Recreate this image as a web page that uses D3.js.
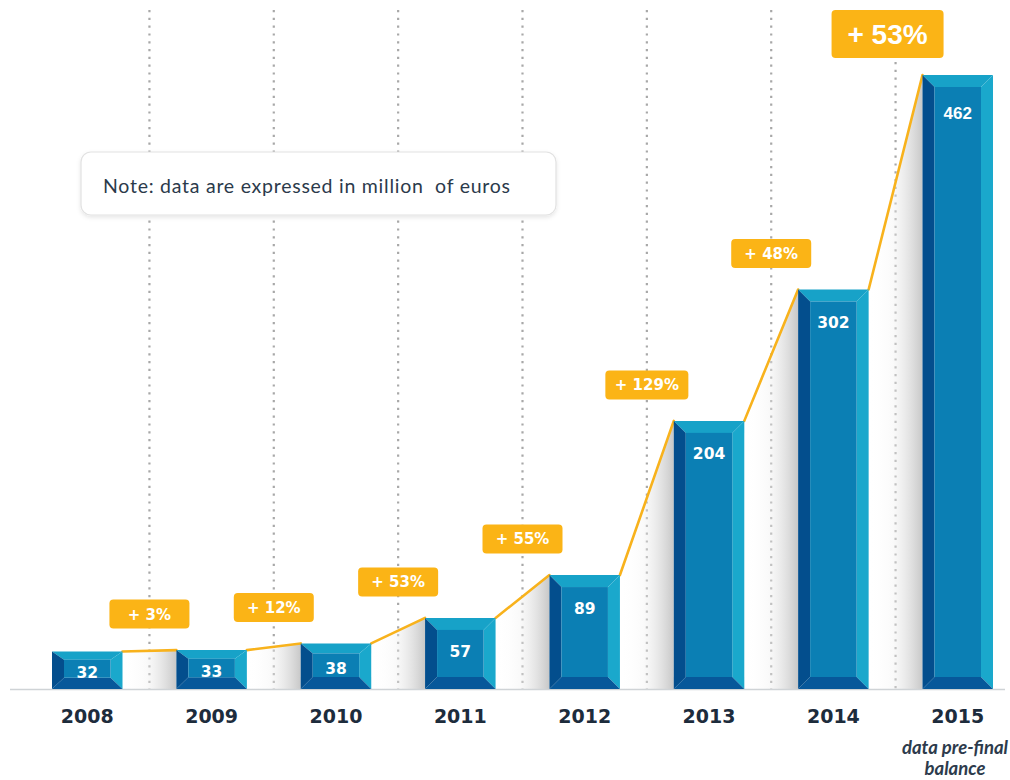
<!DOCTYPE html>
<html>
<head>
<meta charset="utf-8">
<script src="https://cdn.jsdelivr.net/npm/d3@7"></script>
<style>
  html, body { margin: 0; padding: 0; background: #fff; }
  svg { display: block; }
</style>
</head>
<body>
<svg id="chart" width="1010" height="780"></svg>
<script>
/* growth bars with bevelled "3D" blocks, yellow trend line and % badges */
var years = ['2008', '2009', '2010', '2011', '2012', '2013', '2014', '2015'];
var values = [32, 33, 38, 57, 89, 204, 302, 462];
var growth = ['+ 3%', '+ 12%', '+ 53%', '+ 55%', '+ 129%', '+ 48%', '+ 53%'];
var noteText = 'Note: data are expressed in million\u00a0 of euros';
var footNote = ['data pre-final', 'balance'];

var W = 1010, H = 780, BASE = 689;
var BOLD = '"DejaVu Sans", Verdana, sans-serif';
var svg = d3.select('#chart');

var x = d3.scaleBand().domain(years).range([52, 993]).paddingInner(0.433).paddingOuter(0);
var y = d3.scaleLinear().domain([4, 462]).range([BASE, 75]);
var bw = x.bandwidth();
var gap = x.step() - bw;
var lastI = values.length - 1;

var defs = svg.append('defs');
var sg = defs.append('linearGradient').attr('id', 'shade').attr('x1', 0).attr('x2', 1).attr('y1', 0).attr('y2', 0);
sg.append('stop').attr('offset', '0%').attr('stop-color', '#ffffff').attr('stop-opacity', 0);
sg.append('stop').attr('offset', '45%').attr('stop-color', '#f0f0f0').attr('stop-opacity', 0.35);
sg.append('stop').attr('offset', '100%').attr('stop-color', '#b0b0b0').attr('stop-opacity', 0.7);
var fl = defs.append('filter').attr('id', 'boxsh').attr('x', '-5%').attr('y', '-20%').attr('width', '110%').attr('height', '150%');
fl.append('feDropShadow').attr('dx', 0).attr('dy', 2).attr('stdDeviation', 2).attr('flood-color', '#000').attr('flood-opacity', 0.1);

// ----- dotted separators -----
var sepX = years.slice(1).map(function (yr) { return x(yr) - gap / 2; });
svg.append('g').selectAll('line').data(sepX).enter().append('line')
  .attr('x1', function (d) { return d; }).attr('x2', function (d) { return d; })
  .attr('y1', function (d, i) { return i === sepX.length - 1 ? 62 : 10; })
  .attr('y2', BASE)
  .attr('stroke', '#a8a8a8').attr('stroke-width', 2.2)
  .attr('stroke-dasharray', '2.2,5.6');

// ----- note box -----
var note = svg.append('g');
note.append('rect').attr('x', 81).attr('y', 152).attr('width', 475).attr('height', 63).attr('rx', 10)
  .attr('fill', '#fff').attr('stroke', '#e2e2e2').attr('stroke-width', 1.2).attr('filter', 'url(#boxsh)');
note.append('text').attr('x', 103).attr('y', 193)
  .attr('font-family', 'Lato, "Noto Sans", sans-serif').attr('font-size', 19.5)
  .attr('textLength', 407).attr('lengthAdjust', 'spacing')
  .attr('fill', '#2b3a4b').text(noteText);

// ----- shadows between bars -----
var pts = values.map(function (v, i) { return { yr: years[i], v: v, x0: x(years[i]), x1: x(years[i]) + bw, yt: y(v) }; });
var pairs = d3.pairs(pts);
svg.append('g').selectAll('path').data(pairs).enter().append('path')
  .attr('d', function (p) {
    return 'M' + p[0].x1 + ',' + p[0].yt + 'L' + p[1].x0 + ',' + p[1].yt +
      'L' + p[1].x0 + ',' + BASE + 'L' + p[0].x1 + ',' + BASE + 'Z';
  })
  .attr('fill', 'url(#shade)');

// ----- baseline -----
svg.append('line').attr('x1', 10).attr('x2', 1005).attr('y1', BASE + 0.5).attr('y2', BASE + 0.5)
  .attr('stroke', '#cfd3d6').attr('stroke-width', 1.5);

// ----- trend line -----
svg.append('g').selectAll('line').data(pairs).enter().append('line')
  .attr('x1', function (p) { return p[0].x1; }).attr('y1', function (p) { return p[0].yt; })
  .attr('x2', function (p) { return p[1].x0; }).attr('y2', function (p) { return p[1].yt; })
  .attr('stroke', '#f8b21c').attr('stroke-width', 2.6).attr('stroke-linecap', 'round');

// ----- bevelled bars -----
var bars = svg.append('g').selectAll('g').data(pts).enter().append('g');
function geo(d) {
  var h = BASE - d.yt;
  var bt = Math.min(12, h * 0.22), bb = Math.min(12, h * 0.3), bs = 12;
  return { x: d.x0, y: d.yt, w: bw, h: h, ix: d.x0 + bs, iy: d.yt + bt, iw: bw - 2 * bs, ih: h - bt - bb };
}
function poly(arr) { return arr.map(function (p) { return p.join(','); }).join(' '); }
bars.append('polygon').attr('fill', '#17a2c8').attr('points', function (d) {
  var g = geo(d); return poly([[g.x, g.y], [g.x + g.w, g.y], [g.ix + g.iw, g.iy], [g.ix, g.iy]]);
});
bars.append('polygon').attr('fill', '#1aa8cc').attr('points', function (d) {
  var g = geo(d); return poly([[g.x + g.w, g.y], [g.x + g.w, g.y + g.h], [g.ix + g.iw, g.iy + g.ih], [g.ix + g.iw, g.iy]]);
});
bars.append('polygon').attr('fill', '#07589a').attr('points', function (d) {
  var g = geo(d); return poly([[g.x, g.y + g.h], [g.x + g.w, g.y + g.h], [g.ix + g.iw, g.iy + g.ih], [g.ix, g.iy + g.ih]]);
});
bars.append('polygon').attr('fill', '#034e8d').attr('points', function (d) {
  var g = geo(d); return poly([[g.x, g.y], [g.x, g.y + g.h], [g.ix, g.iy + g.ih], [g.ix, g.iy]]);
});
bars.append('rect').attr('fill', '#0b7fb4')
  .attr('x', function (d) { return geo(d).ix; }).attr('y', function (d) { return geo(d).iy; })
  .attr('width', function (d) { return geo(d).iw; }).attr('height', function (d) { return geo(d).ih; });

// value labels
bars.append('text')
  .attr('x', function (d) { return d.x0 + bw / 2; })
  .attr('y', function (d, i) { return Math.min(d.yt + (i === lastI ? 38 : 33), (d.yt + BASE) / 2 + 2); })
  .attr('dy', '0.36em').attr('text-anchor', 'middle')
  .attr('font-family', function (d, i) { return i === lastI ? '"Liberation Sans", Arial, sans-serif' : BOLD; })
  .attr('font-weight', 700).attr('font-size', function (d, i) { return i === lastI ? 17 : 15.5; })
  .attr('fill', '#fff')
  .text(function (d) { return d.v; });

// year labels
svg.append('g').selectAll('text').data(years).enter().append('text')
  .attr('x', function (d) { return x(d) + bw / 2; }).attr('y', 716).attr('dy', '0.36em')
  .attr('text-anchor', 'middle').attr('font-family', BOLD)
  .attr('font-weight', 700).attr('font-size', 19).attr('fill', '#1d2c3c')
  .text(function (d) { return d; });

// foot note under 2015
svg.append('text').attr('x', 955).attr('y', 754).attr('text-anchor', 'middle')
  .attr('font-family', 'Lato, "Open Sans", sans-serif').attr('font-style', 'italic')
  .attr('font-weight', 700).attr('font-size', 18.5).attr('fill', '#2d3b4c')
  .selectAll('tspan').data(footNote).enter().append('tspan')
  .attr('x', 955).attr('dy', function (d, i) { return i ? 21 : 0; }).text(function (d) { return d; });

// ----- growth badges -----
var badges = svg.append('g').selectAll('g').data(growth).enter().append('g')
  .attr('transform', function (d, i) {
    var last = i === growth.length - 1;
    var cx = sepX[i] - (last ? 8 : 0);
    var cy = y(values[i + 1]) - (last ? 41 : 36);
    return 'translate(' + cx + ',' + cy + ')';
  });
function bwid(d, i) { return i === growth.length - 1 ? 112 : (d.length > 5 ? 83 : 80); }
badges.append('rect')
  .attr('x', function (d, i) { return -bwid(d, i) / 2; })
  .attr('y', function (d, i) { return i === growth.length - 1 ? -24 : -14.5; })
  .attr('width', bwid)
  .attr('height', function (d, i) { return i === growth.length - 1 ? 48 : 29; })
  .attr('rx', 4).attr('fill', '#fbb416');
badges.append('text').attr('text-anchor', 'middle').attr('dy', '0.36em')
  .attr('font-family', function (d, i) { return i === growth.length - 1 ? '"Liberation Sans", Arial, sans-serif' : BOLD; })
  .attr('font-weight', 700)
  .attr('font-size', function (d, i) { return i === growth.length - 1 ? 28 : 15; })
  .attr('fill', '#fff').text(function (d) { return d; });
</script>
</body>
</html>
